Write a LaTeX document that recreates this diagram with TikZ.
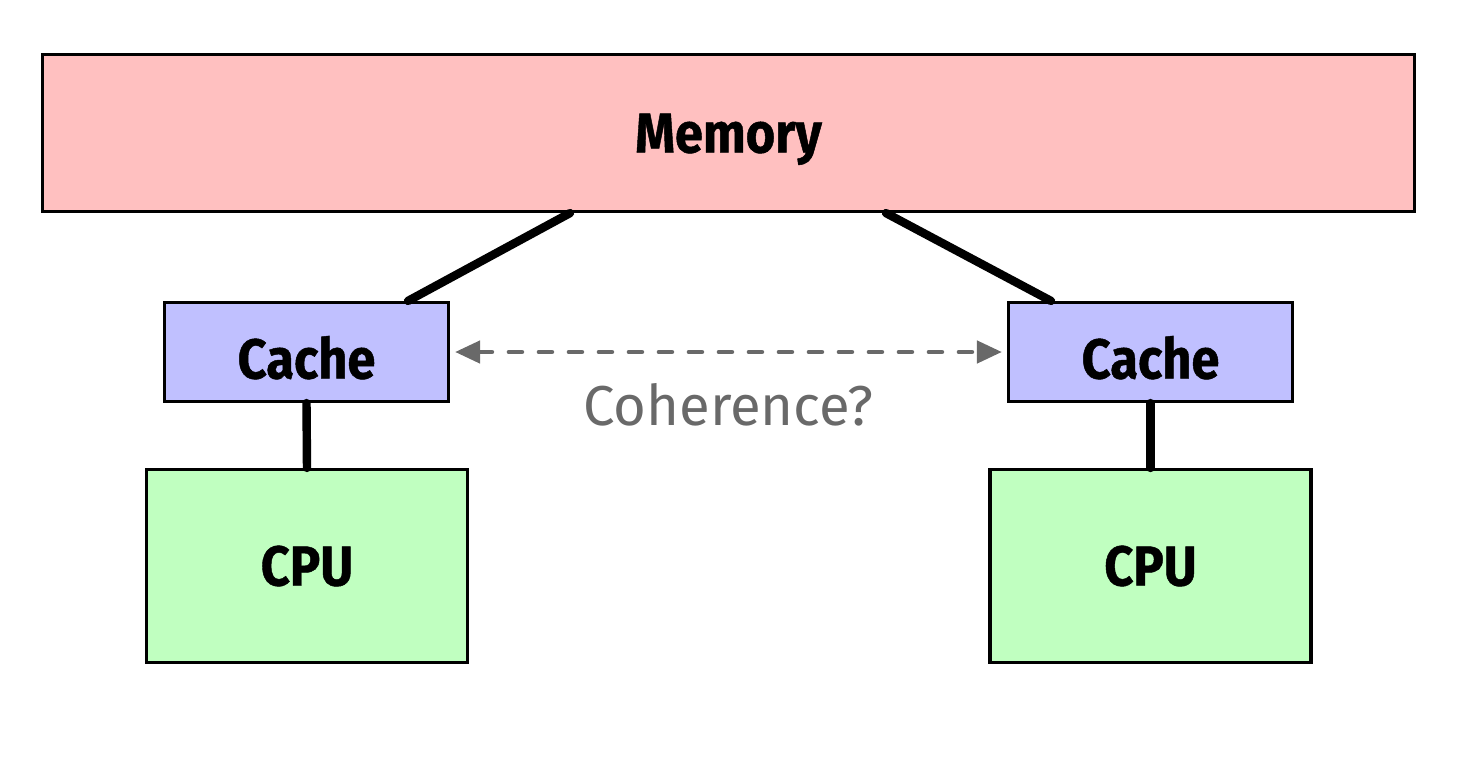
\documentclass[tikz,border=0pt]{standalone}
\usepackage{fontspec}
\setmainfont{Fira Sans}[FakeStretch=0.9, BoldFeatures={FakeBold=0.8}]
\newfontfamily\notefont{Fira Sans}
\usetikzlibrary{arrows.meta, positioning, calc}
\definecolor{memcolor}{RGB}{255,192,192}
\definecolor{cachecolor}{RGB}{192,192,255}
\definecolor{cpucolor}{RGB}{192,255,192}
\definecolor{notecolor}{RGB}{105,105,105}
\begin{document}
\begin{tikzpicture}[
            >={Triangle[width=2.2mm,length=2.5mm]},
                base/.style = {rectangle, draw=black, line width=0.9pt,
                            inner sep=0pt, text centered, text height=0.39cm,
                            text depth=0cm,
                            font=\fontsize{16}{18}\selectfont\bfseries},
                memorybox/.style = {base, fill=memcolor,
                            minimum width=13.72cm, minimum height=1.57cm},
                cachebox/.style = {base, fill=cachecolor, text height=0.53cm,
                            minimum width=2.84cm, minimum height=0.99cm},
                cpubox/.style = {base, fill=cpucolor,
                            minimum width=3.21cm, minimum height=1.93cm},
                link/.style = {line width=2.4pt, line cap=round},
                coherence/.style = {<->, draw=notecolor, line width=1.3pt,
                            dash pattern=on 0.13cm off 0.17cm, line cap=round}]
            \useasboundingbox (0,0) rectangle (14.6,7.78);
            \node (Memory) [memorybox] at (7.285,6.45) {Memory};
            \node (CacheL) [cachebox] at (3.065,4.26) {Cache};
            \node (CacheR) [cachebox] at (11.505,4.26) {Cache};
            \node (CPUL) [cpubox] at (3.07,2.12) {CPU};
            \node (CPUR) [cpubox] at (11.505,2.12) {CPU};
            \node (Coherence) [below=0.19cm of $(CacheL.east)!0.5!(CacheR.west)$,
                font=\fontsize{16}{18}\notefont, text=notecolor] {Coherence?};
            \draw[link] ([xshift=-1.585cm]Memory.south) -- ([xshift=1.015cm]CacheL.north);
            \draw[link] ([xshift=1.575cm]Memory.south) -- ([xshift=-0.995cm]CacheR.north);
            \draw[link] (CacheL.south) -- (CPUL.north);
            \draw[link] (CacheR.south) -- (CPUR.north);
            \draw[coherence] ([xshift=0.05cm]CacheL.east) -- ([xshift=-0.05cm]CacheR.west);
        \end{tikzpicture}
\end{document}
